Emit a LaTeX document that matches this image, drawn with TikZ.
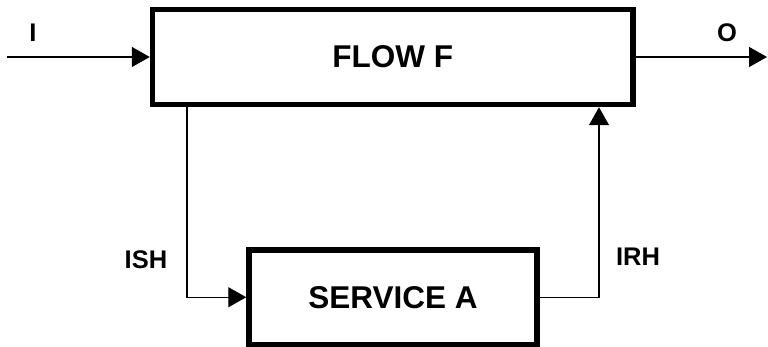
\documentclass[tikz,border=0pt]{standalone}
\usepackage{fontspec}
\setmainfont{Liberation Sans}
\usetikzlibrary{arrows.meta}

\begin{document}
\begin{tikzpicture}[x=0.5pt,y=0.5pt,
		block/.style={draw, line width=2.75pt, inner sep=0pt, font=\fontsize{15.75}{18}\selectfont\bfseries},
		signal/.style={line width=0.7pt, -{Triangle[length=9pt,width=10pt]}},
		tag/.style={anchor=base, inner sep=0pt, font=\fontsize{12.75}{15}\selectfont\bfseries}]
		\useasboundingbox (0,0) rectangle (768,347);
		% main flow and the service it calls
		\node[block, minimum width=240.25pt, minimum height=47.5pt] (flow) at (392.75,290) {FLOW F};
		\node[block, minimum width=144pt, minimum height=47.25pt] (srv) at (393,49.75) {SERVICE A};
		\coordinate (in) at (7,290);
		\coordinate (out) at (767,290);
		% input and output
		\draw[signal] (in) -- (flow.west);
		\draw[signal] (flow.east) -- (out);
		\node[tag] (lin) at (33,305) {I};
		\node[tag] (lout) at (727,305) {O};
		% request to the service and its reply
		\draw[signal] (flow.south -| 187,0) |- (srv.west);
		\draw[signal] (srv.east) -| (flow.south -| 599,0);
		\node[tag] (lish) at (146,78) {ISH};
		\node[tag] (lirh) at (638,81) {IRH};
	\end{tikzpicture}
\end{document}
